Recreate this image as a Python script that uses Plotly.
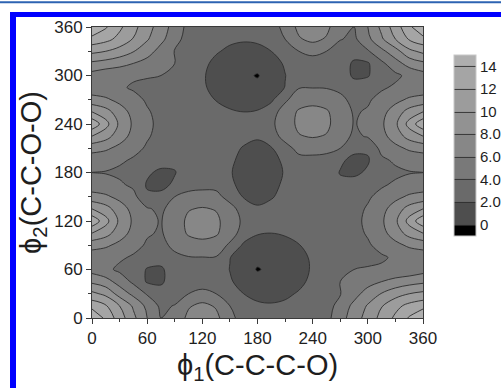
import plotly.graph_objects as go

# Torsion angles (degrees)
phi1 = [0, 15, 30, 45, 60, 75, 90, 105, 120, 135, 150, 165, 180,
        195, 210, 225, 240, 255, 270, 285, 300, 315, 330, 345, 360]
phi2 = [0, 15, 30, 45, 60, 75, 90, 105, 120, 135, 150, 165, 180,
        195, 210, 225, 240, 255, 270, 285, 300, 315, 330, 345, 360]

# Relative energy, one row per phi2 value
row_000 = [16, 13.5, 11, 8.5, 6, 4.0, 4.6, 6.5, 7.5, 6.5, 4.6, 3.1, 2.9, 2.8, 2.9, 3.0, 3.1, 3.4, 5.2, 7.0, 8.8, 10.6, 12.4, 14.2, 16]
row_015 = [13.3, 12.2, 10.0, 7.7, 5.5, 3.6, 4.1, 5.8, 6.5, 5.8, 4.0, 2.8, 2.3, 2.2, 2.4, 2.9, 3.0, 3.1, 4.8, 6.5, 8.2, 9.9, 11.4, 12.6, 13.3]
row_030 = [10.5, 9.5, 7.2, 5.5, 3.8, 2.8, 3.0, 4.0, 4.6, 4.0, 2.9, 2.0, 1.5, 1.35, 1.6, 2.2, 3.0, 3.2, 3.9, 5.3, 6.8, 8.1, 9.2, 10.0, 10.5]
row_045 = [7.6, 6.8, 5.2, 3.6, 1.8, 1.7, 3.0, 3.0, 3.0, 3.0, 2.2, 1.3, 0.6, 0.45, 0.75, 1.5, 2.5, 3.0, 4.0, 4.6, 5.3, 6.0, 6.7, 7.2, 7.6]
row_060 = [5.2, 4.5, 3.6, 3.2, 1.85, 1.7, 3.0, 3.0, 3.0, 3.0, 1.95, 0.7, -0.1, 0.3, 0.6, 1.2, 2.25, 3.0, 3.8, 4.0, 4.2, 4.3, 4.4, 4.6, 5.2]
row_075 = [4.9, 4.75, 4.3, 3.75, 3.0, 2.8, 3.45, 3.9, 3.95, 3.9, 2.05, 1.1, 0.4, 0.15, 0.55, 1.3, 2.35, 3.0, 3.0, 3.2, 3.4, 3.75, 4.3, 4.75, 4.9]
row_090 = [6.7, 6.3, 5.5, 4.65, 3.75, 3.3, 4.6, 5.3, 5.45, 5.3, 3.6, 1.7, 1.1, 0.95, 1.25, 1.9, 2.85, 3.0, 3.0, 3.1, 3.75, 4.65, 5.5, 6.3, 6.7]
row_105 = [10, 8.8, 6.9, 5.4, 4.2, 3.8, 5.1, 6.2, 6.55, 6.2, 5.1, 3.0, 2.15, 2.0, 2.25, 2.85, 3.0, 3.0, 3.0, 3.4, 4.2, 5.4, 6.9, 8.8, 10]
row_120 = [13.5, 10.7, 7.6, 5.7, 4.4, 3.9, 5.15, 6.35, 6.95, 6.35, 5.15, 3.6, 3.0, 3.0, 3.0, 3.0, 3.0, 3.0, 3.0, 3.5, 4.4, 5.7, 7.6, 10.7, 13.5]
row_135 = [10, 8.8, 6.9, 5.4, 4.2, 3.6, 5.0, 5.9, 6.15, 5.9, 5.0, 2.8, 2.2, 2.55, 3.0, 3.0, 3.0, 3.0, 3.0, 3.4, 4.2, 5.4, 6.9, 8.8, 10]
row_150 = [6.7, 6.3, 5.5, 4.6, 2.3, 2.5, 4.0, 4.8, 4.9, 4.8, 3.0, 1.9, 1.55, 1.85, 2.55, 3.0, 3.0, 3.0, 3.0, 3.0, 3.75, 4.6, 5.5, 6.3, 6.7]
row_165 = [4.9, 4.75, 4.3, 3.6, 1.8, 1.5, 2.3, 3.0, 3.3, 3.2, 2.25, 1.6, 1.25, 1.6, 2.25, 3.0, 3.0, 2.9, 2.4, 2.8, 3.2, 3.75, 4.3, 4.75, 4.9]
row_180 = [4.0, 3.9, 3.6, 3.1, 2.3, 1.6, 1.9, 3.0, 3.0, 3.0, 2.1, 1.5, 1.0, 1.5, 2.1, 3.0, 3.0, 3.0, 1.9, 1.6, 2.3, 3.1, 3.6, 3.9, 4.0]
row_195 = [4.9, 4.75, 4.3, 3.75, 3.2, 2.8, 2.4, 2.9, 3.0, 3.0, 2.25, 1.6, 1.25, 1.6, 2.25, 3.2, 3.3, 3.0, 2.3, 1.5, 1.8, 3.6, 4.3, 4.75, 4.9]
row_210 = [6.7, 6.3, 5.5, 4.6, 3.75, 3.0, 3.0, 3.0, 3.0, 3.0, 2.55, 1.85, 1.55, 1.9, 3.0, 4.8, 4.9, 4.8, 4.0, 2.5, 2.3, 4.6, 5.5, 6.3, 6.7]
row_225 = [10, 8.8, 6.9, 5.4, 4.2, 3.4, 3.0, 3.0, 3.0, 3.0, 3.0, 2.55, 2.2, 2.8, 5.0, 5.9, 6.15, 5.9, 5.0, 3.6, 4.2, 5.4, 6.9, 8.8, 10]
row_240 = [13.5, 10.7, 7.6, 5.7, 4.4, 3.5, 3.0, 3.0, 3.0, 3.0, 3.0, 3.0, 3.0, 3.6, 5.15, 6.35, 6.95, 6.35, 5.15, 3.9, 4.4, 5.7, 7.6, 10.7, 13.5]
row_255 = [10, 8.8, 6.9, 5.4, 4.2, 3.4, 3.0, 3.0, 3.0, 2.85, 2.25, 2.0, 2.15, 3.0, 5.1, 6.2, 6.55, 6.2, 5.1, 3.8, 4.2, 5.4, 6.9, 8.8, 10]
row_270 = [6.7, 6.3, 5.5, 4.65, 3.75, 3.1, 3.0, 3.0, 2.85, 1.9, 1.25, 0.95, 1.1, 1.7, 3.6, 5.3, 5.45, 5.3, 4.6, 3.3, 3.75, 4.65, 5.5, 6.3, 6.7]
row_285 = [4.9, 4.75, 4.3, 3.75, 3.4, 3.2, 3.0, 3.0, 2.35, 1.3, 0.55, 0.15, 0.4, 1.1, 2.05, 3.9, 3.95, 3.9, 3.45, 2.8, 3.0, 3.75, 4.3, 4.75, 4.9]
row_300 = [5.2, 4.6, 4.4, 4.3, 4.2, 4.0, 3.8, 3.0, 2.25, 1.2, 0.6, 0.3, -0.1, 0.7, 1.95, 3.0, 3.0, 3.0, 3.0, 1.7, 1.85, 3.2, 3.6, 4.5, 5.2]
row_315 = [7.6, 7.2, 6.7, 6.0, 5.3, 4.6, 4.0, 3.0, 2.5, 1.5, 0.75, 0.45, 0.6, 1.3, 2.2, 3.0, 3.0, 3.0, 3.0, 1.7, 1.8, 3.6, 5.2, 6.8, 7.6]
row_330 = [10.5, 10.0, 9.2, 8.1, 6.8, 5.3, 3.9, 3.2, 3.0, 2.2, 1.6, 1.35, 1.5, 2.0, 2.9, 4.0, 4.6, 4.0, 3.0, 2.8, 3.8, 5.5, 7.2, 9.5, 10.5]
row_345 = [13.3, 12.6, 11.4, 9.9, 8.2, 6.5, 4.8, 3.1, 3.0, 2.9, 2.4, 2.2, 2.3, 2.8, 4.0, 5.8, 6.5, 5.8, 4.1, 3.6, 5.5, 7.7, 10.0, 12.2, 13.3]
row_360 = [16, 14.2, 12.4, 10.6, 8.8, 7.0, 5.2, 3.4, 3.1, 3.0, 2.9, 2.8, 2.9, 3.1, 4.6, 6.5, 7.5, 6.5, 4.6, 4.0, 6, 8.5, 11, 13.5, 16]

energy = [row_000, row_015, row_030, row_045, row_060, row_075, row_090, row_105,
          row_120, row_135, row_150, row_165, row_180, row_195, row_210, row_225,
          row_240, row_255, row_270, row_285, row_300, row_315, row_330, row_345, row_360]

axis_ticks = [0, 60, 120, 180, 240, 300, 360]
bar_ticks = [0, 2, 4, 6, 8, 10, 12, 14]
bar_labels = ["0", "2.0", "4.0", "6.0", "8.0", "10", "12", "14"]
# one grey per band: <0, 0-2, 2-4, ..., 12-14, >14
band_colors = ["#000000", "#4e4e4e", "#6a6a6a", "#797979", "#878787",
               "#929292", "#9c9c9c", "#a5a5a5", "#aeaeae"]

# plotly maps the fill of band k to colorscale position k/8 for these levels
colorscale = [[k / 8, c] for k, c in enumerate(band_colors)]

FONT = "Liberation Sans, Arial, sans-serif"
TXT = "#1e1e1e"

# plot area in pixels
L, R, T, B = 92, 423, 27, 318
W, H = 501, 388
def px(x):
    return (x - L) / (R - L)
def py(y):
    return (B - y) / (B - T)

fig = go.Figure()
fig.add_trace(go.Contour(
    x=phi1, y=phi2, z=energy,
    contours=dict(start=0, end=14, size=2, coloring="fill"),
    colorscale=colorscale,
    line=dict(color="#2e2e2e", width=0.9, smoothing=1.0),
    colorbar=dict(
        x=px(454), xanchor="left", xpad=0,
        y=py(145.5), yanchor="middle", ypad=0,
        len=181 / (B - T), lenmode="fraction", thickness=22,
        outlinewidth=1, outlinecolor="#c8c8c8",
        tickvals=bar_ticks, ticktext=bar_labels, ticks="", ticklen=0,
        tickfont=dict(family=FONT, size=15, color=TXT),
    ),
    hoverinfo="skip",
))

common = dict(range=[0, 360], tickvals=axis_ticks, showgrid=False, zeroline=False,
              linecolor="#3a3a3a", linewidth=1, tickcolor="#3a3a3a")
fig.update_layout(
    width=W, height=H,
    margin=dict(l=L, r=W - R, t=T, b=H - B, autoexpand=False),
    paper_bgcolor="white", plot_bgcolor="white",
    font=dict(family=FONT, color=TXT),
    xaxis=dict(**common, showline=True, mirror=True, ticks="outside", ticklen=5,
               minor=dict(ticks="outside", dtick=30, ticklen=3, tickcolor="#3a3a3a"),
               tickfont=dict(size=17, color=TXT),
               title=dict(text="ϕ<sub>1</sub>(C-C-C-O)", font=dict(size=29, color=TXT), standoff=7)),
    yaxis=dict(**common, showline=True, mirror=True, ticks="outside", ticklen=5,
               minor=dict(ticks="outside", dtick=30, ticklen=3, tickcolor="#3a3a3a"),
               tickfont=dict(size=17, color=TXT),
               title=dict(text="ϕ<sub>2</sub>(C-C-O-O)", font=dict(size=29, color=TXT), standoff=4)),
    xaxis2=dict(**common, overlaying="x", side="top", anchor="y", ticks="inside", ticklen=5,
                showticklabels=False,
                minor=dict(ticks="inside", dtick=30, ticklen=3, tickcolor="#3a3a3a")),
    yaxis2=dict(**common, overlaying="y", side="right", anchor="x", ticks="inside", ticklen=5,
                showticklabels=False,
                minor=dict(ticks="inside", dtick=30, ticklen=3, tickcolor="#3a3a3a")),
)

# page decorations: blue frame and top rule
fig.add_shape(type="rect", xref="paper", yref="paper", layer="above",
              x0=px(10), x1=px(16), y0=py(400), y1=py(12), fillcolor="#0000ff", line_width=0)
fig.add_shape(type="rect", xref="paper", yref="paper", layer="above",
              x0=px(10), x1=px(510), y0=py(17), y1=py(12), fillcolor="#0000ff", line_width=0)
fig.add_shape(type="rect", xref="paper", yref="paper", layer="above",
              x0=px(-10), x1=px(510), y0=py(3.2), y1=py(1.2), fillcolor="#2d63b2", line_width=0)

fig.write_html("out.html", config={"displayModeBar": False},
               post_script="document.body.style.margin='0px';")
